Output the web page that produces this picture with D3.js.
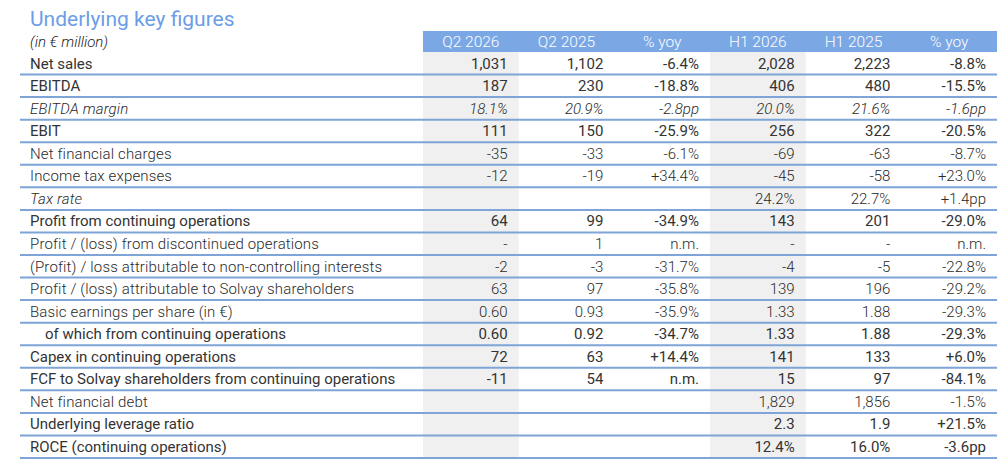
<!DOCTYPE html>
<html>
<head>
<meta charset="utf-8">
<script src="https://cdn.jsdelivr.net/npm/d3@7"></script>
<style>
  html, body { margin: 0; padding: 0; background: #fff; }
  svg { display: block; font-family: Roboto, "Liberation Sans", sans-serif; }
</style>
</head>
<body>
<div id="vis"></div>
<script>
// Table data
const COLUMNS = ["Q2 2026", "Q2 2025", "% yoy", "H1 2026", "H1 2025", "% yoy"];
const ROW_LABELS = [
    "Net sales",
    "EBITDA",
    "EBITDA margin",
    "EBIT",
    "Net financial charges",
    "Income tax expenses",
    "Tax rate",
    "Profit from continuing operations",
    "Profit / (loss) from discontinued operations",
    "(Profit) / loss attributable to non-controlling interests",
    "Profit / (loss) attributable to Solvay shareholders",
    "Basic earnings per share (in €)",
    "of which from continuing operations",
    "Capex in continuing operations",
    "FCF to Solvay shareholders from continuing operations",
    "Net financial debt",
    "Underlying leverage ratio",
    "ROCE (continuing operations)"
];
const Q2_2026 = ["1,031", "187", "18.1%", "111", "-35", "-12", "", "64", "-", "-2", "63", "0.60", "0.60", "72", "-11", "", "", ""];
const Q2_2025 = ["1,102", "230", "20.9%", "150", "-33", "-19", "", "99", "1", "-3", "97", "0.93", "0.92", "63", "54", "", "", ""];
const Q2_YOY = ["-6.4%", "-18.8%", "-2.8pp", "-25.9%", "-6.1%", "+34.4%", "", "-34.9%", "n.m.", "-31.7%", "-35.8%", "-35.9%", "-34.7%", "+14.4%", "n.m.", "", "", ""];
const H1_2026 = ["2,028", "406", "20.0%", "256", "-69", "-45", "24.2%", "143", "-", "-4", "139", "1.33", "1.33", "141", "15", "1,829", "2.3", "12.4%"];
const H1_2025 = ["2,223", "480", "21.6%", "322", "-63", "-58", "22.7%", "201", "-", "-5", "196", "1.88", "1.88", "133", "97", "1,856", "1.9", "16.0%"];
const H1_YOY = ["-8.8%", "-15.5%", "-1.6pp", "-20.5%", "-8.7%", "+23.0%", "+1.4pp", "-29.0%", "n.m.", "-22.8%", "-29.2%", "-29.3%", "-29.3%", "+6.0%", "-84.1%", "-1.5%", "+21.5%", "-3.6pp"];

// Row styles: "r" regular, "l" light, "i" light italic (label + values), "t" italic label only
const ROW_STYLE = ["r", "r", "i", "r", "l", "l", "t", "r", "l", "l", "l", "l", "r", "r", "r", "l", "r", "r"];
const INDENTED = [12];

const WIDTH = 1008;
const HEIGHT = 468;

const SVG = d3.select("#vis").append("svg")
    .attr("width", WIDTH)
    .attr("height", HEIGHT);

const TITLE_COLOR = "#6c9de6";
const HEADER_COLOR = "#7ba7e5";
const LINE_COLOR = "#7ea4d8";
const SHADE_COLOR = "#f0f0f0";

const LEFT = 20;
const RIGHT = 997;
const HEADER_TOP = 31;
const HEADER_BOTTOM = 52;
const TABLE_BOTTOM = 458;
const FONT = "15px";

const values = [Q2_2026, Q2_2025, Q2_YOY, H1_2026, H1_2025, H1_YOY];

// Scales for columns and rows
const x = d3.scaleBand()
    .domain(d3.range(COLUMNS.length))
    .range([423, RIGHT]);

const y = d3.scaleBand()
    .domain(d3.range(ROW_LABELS.length))
    .range([HEADER_BOTTOM, TABLE_BOTTOM]);

// Title
SVG.append("text")
    .attr("x", 30)
    .attr("y", 26)
    .style("font-size", "21px")
    .style("fill", TITLE_COLOR)
    .text("Underlying key figures");

SVG.append("text")
    .attr("x", 30)
    .attr("y", 47)
    .style("font-size", FONT)
    .style("font-style", "italic")
    .style("font-weight", 300)
    .style("fill", "#222")
    .text("(in € million)");

// Header band
SVG.append("rect")
    .attr("x", x(0))
    .attr("y", HEADER_TOP)
    .attr("width", RIGHT - x(0))
    .attr("height", HEADER_BOTTOM - HEADER_TOP)
    .style("fill", HEADER_COLOR);

SVG.append("g")
    .selectAll("text")
    .data(COLUMNS)
    .enter().append("text")
    .attr("x", (d, i) => x(i) + x.bandwidth() / 2)
    .attr("y", HEADER_BOTTOM - 5)
    .style("text-anchor", "middle")
    .style("font-size", "15.5px")
    .style("font-weight", 300)
    .style("fill", "#fff")
    .text(d => d);

// Shaded columns (Q2 2026 and H1 2026)
SVG.append("g")
    .selectAll("rect")
    .data([0, 3])
    .enter().append("rect")
    .attr("x", d => x(d))
    .attr("y", HEADER_BOTTOM)
    .attr("width", x.bandwidth())
    .attr("height", TABLE_BOTTOM - HEADER_BOTTOM)
    .style("fill", SHADE_COLOR);

// Row separators
SVG.append("g")
    .selectAll("line")
    .data(d3.range(ROW_LABELS.length))
    .enter().append("line")
    .attr("x1", LEFT)
    .attr("x2", RIGHT)
    .attr("y1", d => y(d) + y.bandwidth())
    .attr("y2", d => y(d) + y.bandwidth())
    .style("stroke", LINE_COLOR)
    .style("stroke-width", 2);

function weightOf(s) {
    return s === "r" ? 400 : 300;
}
function colorOf(s) {
    return s === "r" ? "#333" : "#2a2a2a";
}
function spacingOf(s) {
    return s === "r" ? "0px" : "0.15px";
}

// Row labels
SVG.append("g")
    .selectAll("text")
    .data(ROW_LABELS)
    .enter().append("text")
    .attr("x", (d, i) => INDENTED.includes(i) ? 45 : 30)
    .attr("y", (d, i) => y(i) + y.bandwidth() - 6)
    .style("font-size", FONT)
    .style("font-weight", (d, i) => weightOf(ROW_STYLE[i]))
    .style("letter-spacing", (d, i) => spacingOf(ROW_STYLE[i]))
    .style("font-style", (d, i) => (ROW_STYLE[i] === "i" || ROW_STYLE[i] === "t") ? "italic" : "normal")
    .style("fill", (d, i) => colorOf(ROW_STYLE[i]))
    .text(d => d);

// Cell values
const cells = [];
values.forEach((col, c) => {
    col.forEach((v, r) => {
        if (v !== "") cells.push({ c: c, r: r, v: v });
    });
});

SVG.append("g")
    .selectAll("text")
    .data(cells)
    .enter().append("text")
    .attr("x", d => x(d.c) + x.bandwidth() - 11)
    .attr("y", d => y(d.r) + y.bandwidth() - 6)
    .style("text-anchor", "end")
    .style("font-size", FONT)
    .style("font-weight", d => weightOf(ROW_STYLE[d.r]))
    .style("font-style", d => ROW_STYLE[d.r] === "i" ? "italic" : "normal")
    .style("fill", d => colorOf(ROW_STYLE[d.r]))
    .text(d => d.v);
</script>
</body>
</html>
